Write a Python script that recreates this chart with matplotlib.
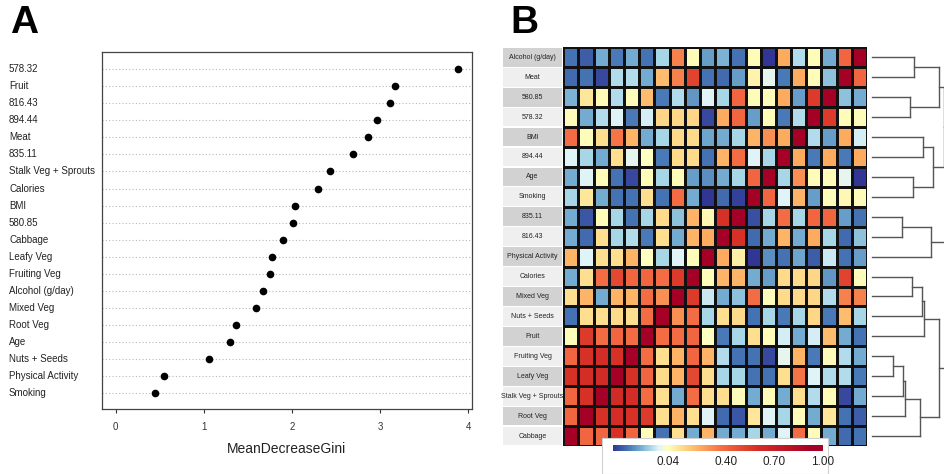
import matplotlib
matplotlib.use('Agg')
import matplotlib.pyplot as plt
import numpy as np
from matplotlib.colors import LinearSegmentedColormap, Normalize
from matplotlib.patches import Rectangle
from matplotlib.transforms import blended_transform_factory

plt.rcParams['font.family'] = ['Liberation Sans', 'DejaVu Sans']

# ---- panel A: variable importance (dotchart) ----
features = ['578.32', 'Fruit', '816.43', '894.44', 'Meat', '835.11',
            'Stalk Veg + Sprouts', 'Calories', 'BMI', '580.85', 'Cabbage',
            'Leafy Veg', 'Fruiting Veg', 'Alcohol (g/day)', 'Mixed Veg',
            'Root Veg', 'Age', 'Nuts + Seeds', 'Physical Activity', 'Smoking']
gini = [3.89, 3.17, 3.11, 2.97, 2.86, 2.69, 2.43, 2.29, 2.03, 2.01,
        1.90, 1.77, 1.75, 1.67, 1.59, 1.37, 1.30, 1.06, 0.55, 0.45]
gini_ticks = [0, 1, 2, 3, 4]

# ---- panel B: correlation heatmap (columns are rows in reverse order) ----
heat_rows = ['Alcohol (g/day)', 'Meat', '580.85', '578.32', 'BMI', '894.44',
             'Age', 'Smoking', '835.11', '816.43', 'Physical Activity',
             'Calories', 'Mixed Veg', 'Nuts + Seeds', 'Fruit', 'Fruiting Veg',
             'Leafy Veg', 'Stalk Veg + Sprouts', 'Root Veg', 'Cabbage']
corr = [
    [-0.21, -0.24, -0.13, -0.20, -0.13, -0.21, -0.07, 0.33, 0.05, -0.15, -0.12, -0.21, 0.05, -0.30, 0.24, -0.06, 0.05, -0.13, 0.40, 1.00],
    [-0.22, -0.21, -0.27, -0.06, -0.06, -0.13, 0.20, 0.33, 0.52, -0.21, -0.22, -0.15, 0.07, -0.01, -0.20, 0.24, 0.05, -0.10, 1.00, 0.40],
    [-0.12, 0.10, 0.05, -0.06, 0.05, 0.20, -0.20, -0.06, -0.16, -0.02, -0.07, 0.40, 0.05, 0.05, 0.24, -0.15, 0.55, 1.00, -0.10, -0.13],
    [0.05, -0.13, -0.06, -0.02, -0.20, -0.03, 0.14, 0.14, 0.14, -0.27, 0.24, 0.40, -0.15, 0.05, -0.20, -0.06, 1.00, 0.55, 0.05, 0.05],
    [0.38, 0.05, 0.12, 0.36, 0.22, -0.13, -0.07, 0.13, 0.13, -0.14, -0.13, -0.07, 0.22, 0.30, 0.24, 1.00, -0.06, -0.15, 0.24, -0.03],
    [-0.02, -0.07, -0.13, 0.12, -0.01, 0.04, -0.20, 0.13, 0.13, -0.21, 0.22, 0.38, -0.02, -0.07, 1.00, 0.24, -0.20, 0.24, -0.20, 0.24],
    [-0.13, -0.02, 0.05, -0.21, -0.27, 0.05, -0.07, 0.05, -0.15, -0.17, -0.13, -0.07, 0.40, 1.00, -0.07, 0.30, 0.05, 0.05, -0.01, -0.30],
    [-0.07, 0.10, -0.13, -0.21, -0.21, 0.12, -0.21, 0.38, -0.13, -0.30, -0.22, -0.28, 1.00, 0.40, -0.02, 0.22, -0.15, 0.05, 0.06, 0.05],
    [-0.13, -0.25, 0.05, -0.07, -0.21, -0.07, 0.13, -0.10, 0.22, 0.06, 0.58, 1.00, -0.26, -0.07, 0.38, -0.07, 0.40, 0.40, -0.15, -0.21],
    [-0.13, -0.22, 0.12, -0.07, -0.06, -0.20, 0.12, -0.13, 0.22, 0.24, 1.00, 0.58, -0.22, -0.13, 0.22, -0.13, 0.24, -0.07, -0.22, -0.10],
    [0.22, -0.02, 0.12, 0.12, 0.22, 0.04, -0.07, -0.02, 0.05, 1.00, 0.24, 0.08, -0.30, -0.17, -0.21, -0.14, -0.24, -0.04, -0.21, -0.15],
    [-0.13, 0.12, 0.38, 0.50, 0.40, 0.40, 0.38, 0.55, 1.00, 0.05, 0.22, 0.22, -0.13, -0.15, 0.13, 0.13, 0.14, -0.16, 0.52, 0.05],
    [0.12, 0.22, -0.13, 0.22, 0.22, 0.38, 0.30, 1.00, 0.55, -0.04, -0.13, -0.10, 0.38, 0.05, 0.13, 0.13, 0.14, -0.06, 0.33, 0.33],
    [-0.21, 0.12, 0.12, 0.13, 0.12, 0.38, 1.00, 0.30, 0.38, -0.07, 0.12, 0.13, -0.21, -0.07, -0.20, -0.07, 0.14, -0.20, 0.20, -0.07],
    [0.05, 0.55, 0.38, 0.40, 0.38, 1.00, 0.38, 0.38, 0.40, 0.04, -0.20, -0.07, 0.12, 0.05, -0.03, -0.13, -0.03, 0.20, -0.13, -0.21],
    [0.40, 0.58, 0.60, 0.58, 1.00, 0.38, 0.12, 0.22, 0.40, 0.22, -0.06, -0.21, -0.21, -0.27, -0.01, 0.22, -0.20, 0.05, -0.06, -0.13],
    [0.58, 0.60, 0.62, 1.00, 0.58, 0.40, 0.13, 0.22, 0.50, 0.12, -0.07, -0.07, -0.21, -0.21, 0.12, 0.36, -0.02, -0.06, -0.06, -0.20],
    [0.40, 0.58, 1.00, 0.62, 0.60, 0.38, 0.12, -0.13, 0.38, 0.12, 0.12, 0.05, -0.13, 0.05, -0.13, 0.12, -0.06, 0.05, -0.27, -0.13],
    [0.40, 1.00, 0.58, 0.60, 0.58, 0.55, 0.12, 0.22, 0.12, -0.02, -0.22, -0.25, 0.10, -0.02, -0.07, 0.05, -0.13, 0.10, -0.21, -0.24],
    [1.00, 0.40, 0.40, 0.58, 0.40, 0.05, -0.21, 0.12, -0.13, 0.22, -0.13, -0.13, -0.07, -0.13, -0.02, 0.38, 0.05, -0.13, -0.22, -0.21],
]
cbar_ticks = [0.04, 0.40, 0.70, 1.00]
cbar_labels = ['0.04', '0.40', '0.70', '1.00']

# row dendrogram: (left, right, height), leaves 0..19 are heatmap rows, new ids from 20
merges = [
    (0, 1, 0.58), (2, 3, 0.52), (20, 21, 0.92),
    (4, 5, 0.70), (6, 7, 0.56), (23, 24, 0.83),
    (22, 25, 0.98),
    (8, 9, 0.41), (27, 10, 0.81),
    (11, 12, 0.55), (29, 13, 0.69), (30, 14, 0.71),
    (15, 16, 0.29), (32, 17, 0.43), (33, 18, 0.46), (34, 19, 0.66),
    (31, 35, 0.92),
    (26, 28, 1.20), (37, 36, 1.40),
]

W, H = 945, 474
fig = plt.figure(figsize=(W / 100, H / 100), dpi=100)


def fax(x0, y0, x1, y1):
    # axes from a pixel box (top-left origin)
    return fig.add_axes([x0 / W, 1 - y1 / H, (x1 - x0) / W, (y1 - y0) / H])


# ---------------- panel A ----------------
ax = fax(101.7, 52, 471.7, 409)
ypos = np.arange(len(features), 0, -1)
for y in ypos:
    ax.axhline(y, color='#b8b8b8', lw=0.8, ls=(0, (1, 2)), zorder=1)
ax.plot(gini, ypos, 'o', color='black', ms=4.5, zorder=3)
ax.set_xlim(-0.16, 4.04)
ax.set_ylim(0.08, 21.0)
ax.set_yticks([])
ax.set_xticks(gini_ticks)
ax.tick_params(axis='x', length=3, width=0.8, labelsize=7, colors='#333333', pad=6)
for sp in ax.spines.values():
    sp.set_linewidth(0.9)
    sp.set_color('#444444')
tr = blended_transform_factory(fig.transFigure, ax.transData)
for name, y in zip(features, ypos):
    ax.text(9 / W, y, name, transform=tr, ha='left', va='center',
            fontsize=7, color='#222222')
fig.text(286.7 / W, 1 - 449 / H, 'MeanDecreaseGini', ha='center', va='center',
         fontsize=10, color='#222222')

# ---------------- panel B ----------------
cmap = LinearSegmentedColormap.from_list('rdylbu', [
    (0.00, '#313695'), (0.07, '#4575b4'), (0.13, '#74add1'), (0.18, '#abd9e9'),
    (0.215, '#e0f3f8'), (0.26, '#ffffbf'), (0.32, '#fee090'), (0.41, '#fdae61'),
    (0.52, '#f46d43'), (0.68, '#d73027'), (0.95, '#a50026'), (1.00, '#a50026')])
norm = Normalize(vmin=-0.3, vmax=1.0)

hx = fax(563.3, 47.3, 867, 446)
hx.pcolormesh(np.array(corr), cmap=cmap, norm=norm, edgecolors='#111111', linewidth=0.9)
hx.set_xlim(0, 20)
hx.set_ylim(20, 0)
hx.axis('off')
for i, name in enumerate(heat_rows):
    fc = '#d2d2d2' if i % 2 == 0 else '#efefef'
    hx.add_patch(Rectangle((-3.97, i + 0.03), 3.88, 0.94, facecolor=fc,
                           edgecolor='none', clip_on=False))
    hx.text(-2.03, i + 0.5, name, ha='center', va='center', fontsize=5,
            color='#222222', clip_on=False)

# dendrogram
dx = fax(867, 47.3, 945, 446)
pos = {i: float(i) for i in range(len(heat_rows))}
hgt = {i: 0.0 for i in range(len(heat_rows))}
nid = len(heat_rows)
for a, b, h in merges:
    for c in (a, b):
        dx.plot([hgt[c], h], [pos[c], pos[c]], color='#555555', lw=1)
    dx.plot([h, h], [pos[a], pos[b]], color='#555555', lw=1)
    pos[nid] = (pos[a] + pos[b]) / 2
    hgt[nid] = h
    nid += 1
dx.set_xlim(-0.064, 1.0)
dx.set_ylim(19.5, -0.5)
dx.axis('off')

# colour key
fig.add_artist(Rectangle((602 / W, 0), (828 - 602) / W, (H - 438) / H,
                         transform=fig.transFigure, facecolor='white',
                         edgecolor='#d0d0d0', lw=0.8, zorder=5))
cax = fax(613, 445, 823, 451.5)
cax.set_zorder(6)
cax.imshow(np.linspace(-0.3, 1.0, 256)[None, :], aspect='auto', cmap=cmap,
           norm=norm, extent=[-0.3, 1.0, 0, 1])
cax.set_xticks(cbar_ticks, labels=cbar_labels)
cax.set_yticks([])
cax.tick_params(axis='x', length=0, labelsize=8.5, pad=3, colors='#222222')
for sp in cax.spines.values():
    sp.set_visible(False)

fig.text(10 / W, 1 - 23 / H, 'A', fontsize=28, fontweight='bold', va='center', ha='left')
fig.text(510 / W, 1 - 23 / H, 'B', fontsize=28, fontweight='bold', va='center', ha='left')

fig.savefig('out.png', dpi=100)
